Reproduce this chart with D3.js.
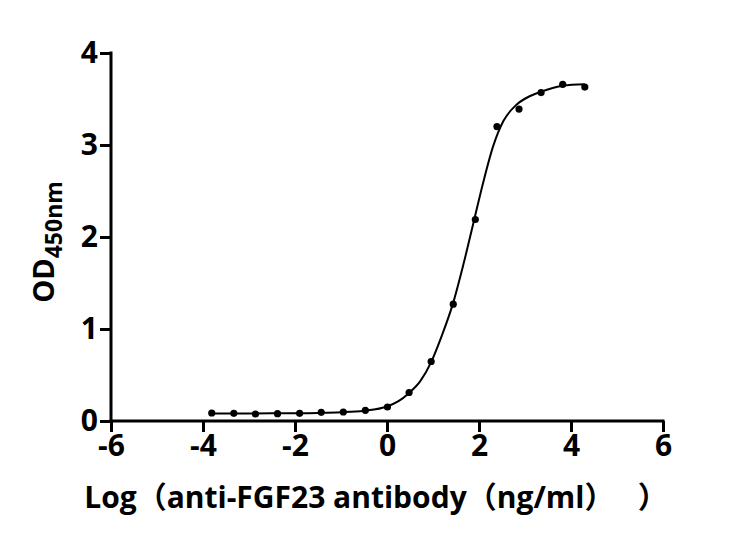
<!DOCTYPE html>
<html>
<head>
<meta charset="utf-8">
<script src="https://cdn.jsdelivr.net/npm/d3@7"></script>
<style>
  body { margin: 0; background: #fff; }
  text { font-family: "Open Sans", "Noto Sans CJK SC", sans-serif; font-weight: bold; }
</style>
</head>
<body>
<svg id="chart"></svg>
<script>
// Chart size and margins (plot area in pixels)
const margin = { top: 53, right: 93, bottom: 125, left: 111 };
const totalWidth = 756;
const totalHeight = 546;
const width = totalWidth - margin.left - margin.right;
const height = totalHeight - margin.top - margin.bottom;

// Measured points: log concentration and OD450
const logConc = [-3.81, -3.33, -2.86, -2.38, -1.90, -1.43, -0.95, -0.47, 0.01,
                 0.48, 0.96, 1.44, 1.92, 2.39, 2.87, 3.35, 3.82, 4.30];
const od = [0.087, 0.083, 0.076, 0.080, 0.083, 0.094, 0.098, 0.116, 0.152,
            0.31, 0.647, 1.27, 2.19, 3.20, 3.39, 3.57, 3.66, 3.63];

// Fitted curve
const fitX = [-3.81, -2.5, -1.5, -1.0, -0.5, 0, 0.25, 0.48, 0.72, 0.96, 1.19,
              1.43, 1.66, 1.88, 2.09, 2.31, 2.53, 2.82, 3.1, 3.35, 3.82, 4.30];
const fitY = [0.082, 0.083, 0.088, 0.095, 0.112, 0.158, 0.215, 0.305, 0.43, 0.64, 0.925,
              1.27, 1.70, 2.155, 2.59, 2.99, 3.26, 3.44, 3.53, 3.58, 3.645, 3.66];

// Axis ticks
const xTicks = [-6, -4, -2, 0, 2, 4, 6];
const yTicks = [0, 1, 2, 3, 4];

const svg = d3.select("#chart")
    .attr("width", totalWidth)
    .attr("height", totalHeight);

const g = svg.append("g")
    .attr("transform", `translate(${margin.left},${margin.top})`);

// Scales
const x = d3.scaleLinear().domain([-6, 6]).range([0, width]);
const y = d3.scaleLinear().domain([0, 4]).range([height, 0]);

// Axes
const xAxis = g.append("g")
    .attr("transform", `translate(0,${height})`)
    .call(d3.axisBottom(x).tickValues(xTicks).tickSize(11).tickPadding(3).tickFormat(d3.format("d")));
const yAxis = g.append("g")
    .call(d3.axisLeft(y).tickValues(yTicks).tickSize(11).tickPadding(2).tickFormat(d3.format("d")));

[xAxis, yAxis].forEach(a => {
    a.select(".domain").attr("stroke", "#000").attr("stroke-width", 3)
        .attr("stroke-linecap", "square");
    a.selectAll(".tick line").attr("stroke", "#000").attr("stroke-width", 3);
    a.selectAll(".tick text")
        .attr("fill", "#000")
        .style("font-size", "30px")
        .style("font-family", "'Open Sans', sans-serif")
        .style("font-weight", "bold");
});
// axis domain without outer ticks
xAxis.select(".domain").attr("d", `M0,0H${width}`);
yAxis.select(".domain").attr("d", `M0,${height}V0`);
// minus sign as hyphen like the original
xAxis.selectAll(".tick text").text(d => String(d));

// Fitted curve
const line = d3.line()
    .x((d, i) => x(fitX[i]))
    .y(d => y(d))
    .curve(d3.curveMonotoneX);

g.append("path")
    .datum(fitY)
    .attr("fill", "none")
    .attr("stroke", "#000")
    .attr("stroke-width", 2)
    .attr("d", line);

// Data points
g.selectAll(".dot")
    .data(od)
    .enter()
    .append("circle")
    .attr("class", "dot")
    .attr("cx", (d, i) => x(logConc[i]))
    .attr("cy", d => y(d))
    .attr("r", 3.6)
    .attr("fill", "#000");

// X axis title
svg.append("text")
    .attr("x", 376)
    .attr("y", 508)
    .attr("text-anchor", "middle")
    .attr("xml:space", "preserve")
    .style("white-space", "pre")
    .style("font-size", "30px")
    .text("Log（anti-FGF23 antibody（ng/ml）   ）");

// Y axis title with subscript
const yTitle = svg.append("text")
    .attr("transform", "translate(54,242) rotate(-90)")
    .attr("text-anchor", "middle")
    .style("font-size", "29px");
yTitle.append("tspan").text("OD");
yTitle.append("tspan")
    .attr("dy", 8)
    .style("font-size", "23px")
    .text("450nm");
</script>
</body>
</html>
